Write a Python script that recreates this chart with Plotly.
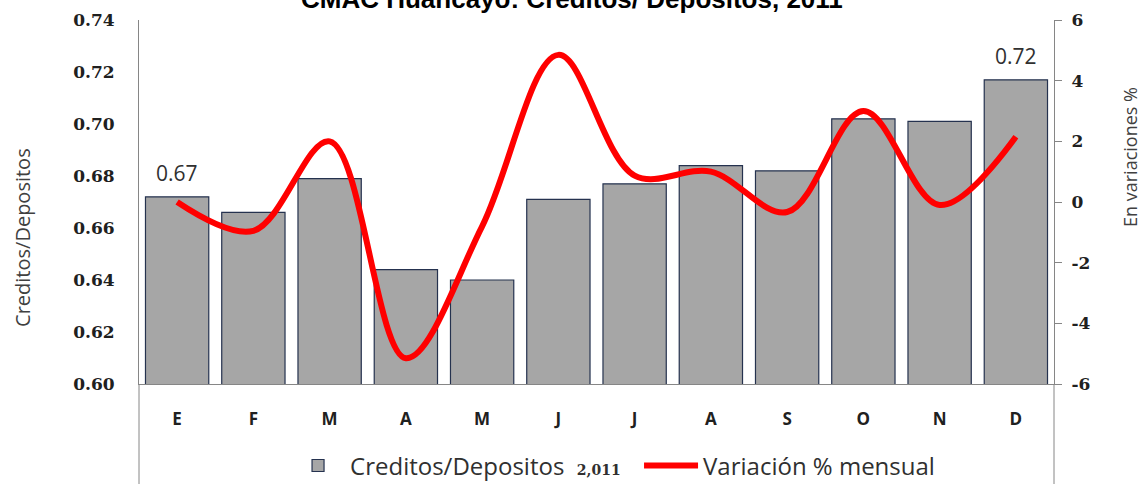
import plotly.graph_objects as go

# ---- data ----
months = ["E", "F", "M", "A", "M", "J", "J", "A", "S", "O", "N", "D"]
ratio_2011 = [0.672, 0.666, 0.679, 0.644, 0.640, 0.671, 0.677, 0.684, 0.682, 0.702, 0.701, 0.717]
var_mensual = [0.0, -0.95, 2.0, -5.15, -0.8, 4.85, 0.87, 1.0, -0.33, 3.0, -0.1, 2.15]
left_ticks = [0.60, 0.62, 0.64, 0.66, 0.68, 0.70, 0.72, 0.74]
right_ticks = [-6, -4, -2, 0, 2, 4, 6]
label_idx = [0, 11]  # bars that carry a value label

title_text = "CMAC Huancayo: Creditos/ Depositos, 2011"
bar_name = ("Creditos/Depositos  <span style=\"font-family:DejaVu Serif;font-size:14px\">"
            "<b>2,011</b></span>")
line_name = "Variación % mensual"
ytitle_left = "Creditos/Depositos"
ytitle_right = "En variaciones %"

xs = list(range(len(months)))

fig = go.Figure()
fig.add_trace(go.Bar(
    x=xs, y=ratio_2011, name=bar_name,
    marker=dict(color="#A6A6A6", line=dict(color="#25324F", width=1.2)),
    hoverinfo="y",
))
fig.add_trace(go.Scatter(
    x=xs, y=var_mensual, name=line_name, yaxis="y2", mode="lines",
    line=dict(color="#FF0000", width=6, shape="spline", smoothing=1.0),
))

# value labels on first and last bars
for i in label_idx:
    fig.add_annotation(x=xs[i], y=ratio_2011[i], xref="x", yref="y",
                       text=f"{ratio_2011[i]:.2f}", showarrow=False,
                       yanchor="bottom", yshift=8,
                       font=dict(family="Open Sans", size=21, color="#303030"))

# title (partly cut off at top, as in the reference)
fig.add_annotation(x=0.4732, y=1.011, xref="paper", yref="paper",
                   text=f"<b>{title_text}</b>", showarrow=False,
                   xanchor="center", yanchor="bottom",
                   font=dict(family="Liberation Sans", size=26, color="#000000"))

# axis titles
fig.add_annotation(x=-0.1268, y=0.404, xref="paper", yref="paper",
                   text=ytitle_left, showarrow=False, textangle=-90,
                   xanchor="center", yanchor="middle",
                   font=dict(family="Open Sans", size=20, color="#404040"))
fig.add_annotation(x=1.0830, y=0.6236, xref="paper", yref="paper",
                   text=ytitle_right, showarrow=False, textangle=-90,
                   xanchor="center", yanchor="middle",
                   font=dict(family="Open Sans", size=18, color="#404040"))

# axis lines extending below the plot area (as in the reference frame)
for xp in (0, 1):
    fig.add_shape(type="line", xref="paper", yref="paper",
                  x0=xp, x1=xp, y0=0, y1=-0.3,
                  line=dict(color="#868686", width=1))

fig.update_layout(
    width=1144, height=484,
    margin=dict(l=139, r=90, t=20, b=100, autoexpand=False),
    paper_bgcolor="white", plot_bgcolor="white",
    bargap=0.17,
    showlegend=True,
    legend=dict(orientation="h", x=0.1607, y=-0.225, xanchor="left", yanchor="middle",
                font=dict(family="Open Sans", size=24, color="#303030"),
                itemwidth=54, entrywidth=284, traceorder="normal",
                bgcolor="rgba(0,0,0,0)"),
    xaxis=dict(range=[-0.5, len(months) - 0.5], tickvals=xs, ticktext=months,
               showline=True, linecolor="#868686", linewidth=1, ticks="",
               showgrid=False, zeroline=False, ticklabelstandoff=20,
               tickfont=dict(family="Open Sans", size=17, color="#202020", weight="bold")),
    yaxis=dict(range=[0.60, 0.74], tickvals=left_ticks, tickformat=".2f",
               showline=True, linecolor="#868686", linewidth=1, ticks="",
               showgrid=False, zeroline=False, ticklabelstandoff=20,
               tickfont=dict(family="DejaVu Serif", size=17, color="#202020", weight="bold")),
    yaxis2=dict(range=[-6, 6], tickvals=right_ticks,
                ticktext=[str(v) for v in right_ticks],
                overlaying="y", side="right",
                showline=True, linecolor="#868686", linewidth=1,
                ticks="outside", ticklen=7, tickcolor="#868686",
                showgrid=False, zeroline=False, ticklabelstandoff=6,
                tickfont=dict(family="DejaVu Serif", size=17, color="#202020", weight="bold")),
)

fig.write_html("out.html", config={"displayModeBar": False},
               post_script="document.body.style.margin='0';document.body.style.overflow='hidden';")
